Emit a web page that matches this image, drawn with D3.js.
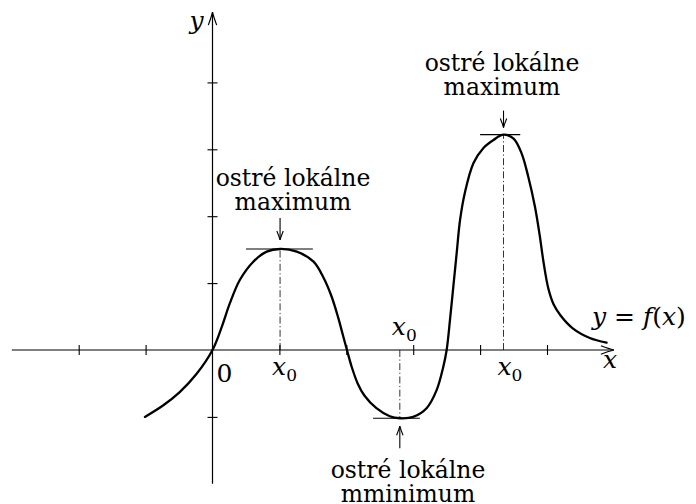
<!DOCTYPE html>
<html>
<head>
<meta charset="utf-8">
<script src="https://cdn.jsdelivr.net/npm/d3@7"></script>
<style>
  html, body { margin: 0; padding: 0; background: #fff; }
  svg { display: block; }
  .it { font-style: italic; }
</style>
</head>
<body>
<svg id="chart" width="696" height="504" font-family="'DejaVu Serif', serif"></svg>
<script>
// Sampled points of y = f(x), in axis units
const curveX = [-1.01, -0.74, -0.49, -0.24, 0, 0.14, 0.26, 0.41, 0.61, 0.81, 1.01, 1.26, 1.51, 1.66, 1.78, 1.88, 1.95,
                2.01, 2.08, 2.17, 2.27, 2.45, 2.65, 2.80, 3.00, 3.20, 3.35, 3.45, 3.50, 3.55, 3.60, 3.65, 3.70, 3.77,
                3.90, 4.05, 4.20, 4.35, 4.50, 4.62, 4.72, 4.82, 4.89, 4.95, 5.02, 5.10, 5.20, 5.39, 5.64, 5.89];
const curveY = [-1.00, -0.83, -0.63, -0.36, 0, 0.35, 0.70, 1.05, 1.32, 1.47, 1.51, 1.47, 1.32, 1.08, 0.80, 0.48, 0.22,
                0, -0.25, -0.50, -0.68, -0.87, -0.99, -1.02, -1.00, -0.87, -0.60, -0.25, 0, 0.45, 0.95, 1.45, 1.94, 2.34,
                2.79, 3.02, 3.14, 3.22, 3.16, 2.94, 2.59, 2.14, 1.72, 1.30, 0.92, 0.68, 0.52, 0.32, 0.18, 0.11];

// Local extrema and the extent of their horizontal tangent segments
const extremaX = [1.01, 2.80, 4.35];
const extremaY = [1.51, -1.02, 3.22];
const tangentFrom = [0.50, 2.40, 4.00];
const tangentTo = [1.50, 3.10, 4.60];
const extremaLines1 = ["ostré lokálne", "ostré lokálne", "ostré lokálne"];
const extremaLines2 = ["maximum", "mminimum", "maximum"];

// Axis ticks
const xTicks = [-2, -1, 1, 2, 3, 4, 5];
const yTicks = [-1, 1, 2, 3, 4];
const xDomain = [-3, 6];
const yDomain = [-2, 5.05];

const svg = d3.select("#chart");
const unit = 66.9;
const ox = 212.5, oy = 350;

const x = d3.scaleLinear().domain(xDomain).range([ox + xDomain[0] * unit, ox + xDomain[1] * unit]);
const y = d3.scaleLinear().domain(yDomain).range([oy - yDomain[0] * unit, oy - yDomain[1] * unit]);

// LaTeX-style open arrow head: two slightly curved barbs meeting at the tip
function arrowHead(tx, ty, dir, L = 13, W = 4.2) {
  const [dx, dy] = dir;
  const px = -dy, py = dx;
  const b1 = [tx - dx * L + px * W, ty - dy * L + py * W];
  const b2 = [tx - dx * L - px * W, ty - dy * L - py * W];
  const c1 = [tx - dx * L * 0.35 + px * W * 0.25, ty - dy * L * 0.35 + py * W * 0.25];
  const c2 = [tx - dx * L * 0.35 - px * W * 0.25, ty - dy * L * 0.35 - py * W * 0.25];
  return `M${b1[0]},${b1[1]} Q${c1[0]},${c1[1]} ${tx},${ty} Q${c2[0]},${c2[1]} ${b2[0]},${b2[1]}`;
}

// X axis
const gx = svg.append("g").attr("transform", `translate(0,${y(0)})`)
  .call(d3.axisBottom(x).tickValues(xTicks).tickSizeInner(5).tickSizeOuter(0).tickFormat(""));
gx.select(".domain").remove();
gx.selectAll(".tick line").attr("y1", -5).attr("y2", 5).attr("stroke", "#000").attr("stroke-width", 1.1);
svg.append("line").attr("x1", x(xDomain[0])).attr("x2", x(xDomain[1]))
  .attr("y1", y(0)).attr("y2", y(0)).attr("stroke", "#000").attr("stroke-width", 1.2);
svg.append("path").attr("d", arrowHead(x(xDomain[1]), y(0), [1, 0]))
  .attr("fill", "none").attr("stroke", "#000").attr("stroke-width", 1.2);

// Y axis
const gy = svg.append("g").attr("transform", `translate(${x(0)},0)`)
  .call(d3.axisLeft(y).tickValues(yTicks).tickSizeInner(5).tickSizeOuter(0).tickFormat(""));
gy.select(".domain").remove();
gy.selectAll(".tick line").attr("x1", -5).attr("x2", 5).attr("stroke", "#000").attr("stroke-width", 1.1);
svg.append("line").attr("x1", x(0)).attr("x2", x(0))
  .attr("y1", y(yDomain[0])).attr("y2", y(yDomain[1])).attr("stroke", "#000").attr("stroke-width", 1.2);
svg.append("path").attr("d", arrowHead(x(0), y(yDomain[1]), [0, -1]))
  .attr("fill", "none").attr("stroke", "#000").attr("stroke-width", 1.2);

// Dash-dot drop lines from the axis to each extremum
svg.selectAll("line.drop").data(extremaX).join("line")
  .attr("class", "drop")
  .attr("x1", d => x(d)).attr("x2", d => x(d))
  .attr("y1", y(0)).attr("y2", (d, i) => y(extremaY[i]))
  .attr("stroke", "#000").attr("stroke-width", 0.8)
  .attr("stroke-dasharray", "7,2.5,1.2,2.5");

// Horizontal tangents at the extrema
svg.selectAll("line.tangent").data(extremaX).join("line")
  .attr("class", "tangent")
  .attr("x1", (d, i) => x(tangentFrom[i])).attr("x2", (d, i) => x(tangentTo[i]))
  .attr("y1", (d, i) => y(extremaY[i])).attr("y2", (d, i) => y(extremaY[i]))
  .attr("stroke", "#000").attr("stroke-width", 1.1);

// The function graph
const pts = curveX.map((v, i) => [v, curveY[i]]);
svg.append("path").datum(pts)
  .attr("d", d3.line().x(d => x(d[0])).y(d => y(d[1])).curve(d3.curveCatmullRom.alpha(0.5)))
  .attr("fill", "none").attr("stroke", "#000").attr("stroke-width", 2.3)
  .attr("stroke-linejoin", "round").attr("stroke-linecap", "round");

// Small arrows pointing at the extrema
function pointer(xv, yTail, yTip) {
  svg.append("line").attr("x1", xv).attr("x2", xv).attr("y1", yTail).attr("y2", yTip)
    .attr("stroke", "#000").attr("stroke-width", 1.1);
  const dir = yTip > yTail ? [0, 1] : [0, -1];
  svg.append("path").attr("d", arrowHead(xv, yTip, dir, 9, 3.2))
    .attr("fill", "none").attr("stroke", "#000").attr("stroke-width", 1.1);
}
const extX = extremaX.map(d => x(d));
pointer(extX[0], y(extremaY[0]) - 31, y(extremaY[0]) - 9);
pointer(extX[1], y(extremaY[1]) + 30, y(extremaY[1]) + 8);
pointer(extX[2], y(extremaY[2]) - 24, y(extremaY[2]) - 7);

// Annotations
const fs = 23.5;
const labelPos = [
  { cx: 293, b1: 186, b2: 210 },
  { cx: 408, b1: 478, b2: 502 },
  { cx: 502, b1: 71, b2: 95 }
];
labelPos.forEach((p, i) => {
  svg.append("text").attr("x", p.cx).attr("y", p.b1).attr("text-anchor", "middle")
    .attr("font-size", fs).text(extremaLines1[i]);
  svg.append("text").attr("x", p.cx).attr("y", p.b2).attr("text-anchor", "middle")
    .attr("font-size", fs).text(extremaLines2[i]);
});

// x_0 labels
const ms = 25;
function xSub(px, baseline) {
  const t = svg.append("text").attr("x", px).attr("y", baseline).attr("font-size", ms);
  t.append("tspan").attr("class", "it").text("x");
  t.append("tspan").attr("font-size", 17).attr("dy", 6).text("0");
}
xSub(x(extremaX[0]) - 8, 375);
xSub(x(extremaX[1]) - 8, 335);
xSub(x(extremaX[2]) - 6, 375);

// Origin and axis names
svg.append("text").attr("x", x(0) + 4).attr("y", 382).attr("font-size", ms).text("0");
svg.append("text").attr("x", x(0) - 23).attr("y", 29).attr("font-size", ms).attr("class", "it").text("y");
svg.append("text").attr("x", x(xDomain[1]) - 11).attr("y", 368).attr("font-size", ms).attr("class", "it").text("x");

const fl = svg.append("text").attr("x", 592).attr("y", 325).attr("font-size", ms);
fl.append("tspan").attr("class", "it").text("y");
fl.append("tspan").text(" = ");
fl.append("tspan").attr("class", "it").text("f");
fl.append("tspan").text("(");
fl.append("tspan").attr("class", "it").text("x");
fl.append("tspan").text(")");
</script>
</body>
</html>
